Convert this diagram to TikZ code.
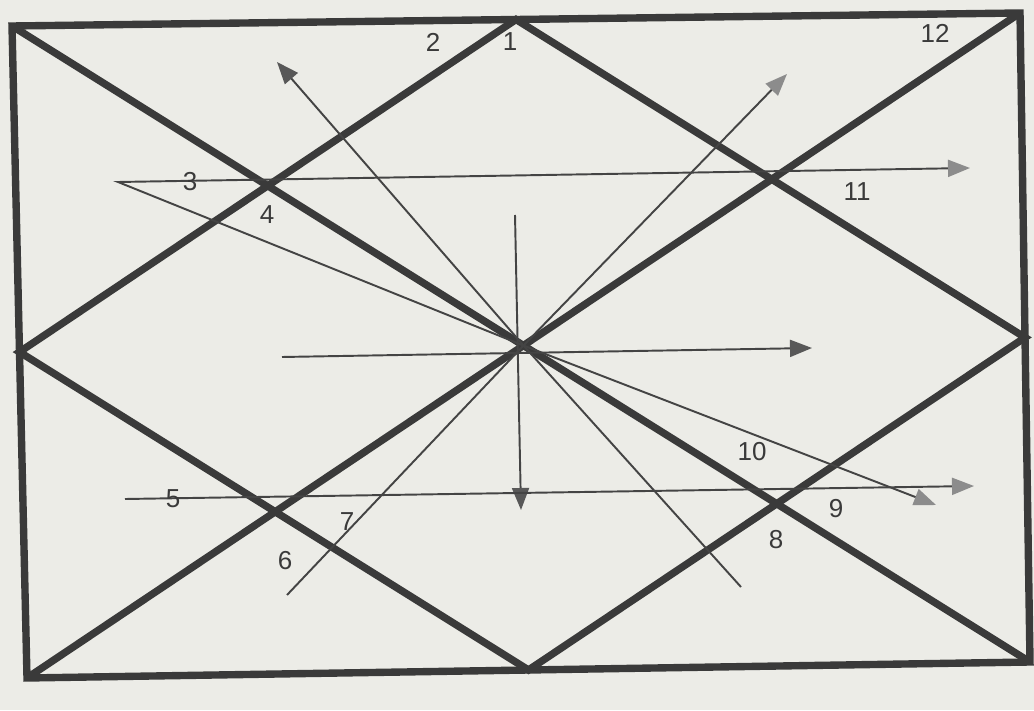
\documentclass[tikz,border=0pt]{standalone}
\usepackage{fontspec}
\setmainfont{Liberation Sans}
\usetikzlibrary{arrows.meta,calc}
\definecolor{paper}{RGB}{236,236,231}
\definecolor{ink}{RGB}{58,58,58}
\begin{document}
\begin{tikzpicture}[
  heavy/.style={draw=ink,line width=2.1pt},
  ray/.style={draw=ink!95,line width=0.55pt},
  darkhead/.style={-{Triangle[length=0.22cm,width=0.17cm,color=ink!85]}},
  greyhead/.style={-{Triangle[length=0.22cm,width=0.17cm,color=black!45]}},
  num/.style={text=ink,font=\fontsize{7.4}{8}\selectfont,inner sep=0pt}]
\fill[paper] (0,0) rectangle (10.34,7.10);
\useasboundingbox (0,0) rectangle (10.34,7.10);
\coordinate (tl) at (0.12,6.84);
\coordinate (tr) at (10.20,6.97);
\coordinate (br) at (10.30,0.48);
\coordinate (bl) at (0.27,0.32);
\coordinate (top) at ($(tl)!0.5!(tr)$);
\coordinate (rgt) at ($(tr)!0.5!(br)$);
\coordinate (bot) at ($(br)!0.5!(bl)$);
\coordinate (lft) at ($(bl)!0.5!(tl)$);
\coordinate (c) at (intersection of tl--br and tr--bl);
\draw[heavy] (tl)--(tr)--(br)--(bl)--cycle;
\draw[heavy] (tl)--(br);
\draw[heavy] (tr)--(bl);
\draw[heavy] (top)--(rgt)--(bot)--(lft)--cycle;
\coordinate (k3) at (1.18,5.28);
\coordinate (k11) at (9.70,5.42);
\coordinate (k2) at (2.77,6.48);
\coordinate (k12) at (7.87,6.36);
\coordinate (v1) at (5.15,4.95);
\coordinate (v2) at (5.21,2.00);
\coordinate (m1) at (2.82,3.53);
\coordinate (m2) at (8.12,3.62);
\coordinate (k7) at (2.87,1.15);
\coordinate (k8) at (7.41,1.23);
\coordinate (k10) at (9.36,2.05);
\coordinate (h1) at (1.25,2.11);
\coordinate (h2) at (9.74,2.24);
\draw[ray,greyhead] (c)--(k3)--(k11);
\draw[ray,darkhead] (c)--(k2);
\draw[ray,greyhead] (c)--(k12);
\draw[ray,darkhead] (v1)--(v2);
\draw[ray,darkhead] (m1)--(m2);
\draw[ray] (c)--(k7);
\draw[ray] (c)--(k8);
\draw[ray,greyhead] (c)--(k10);
\draw[ray,greyhead] (h1)--(h2);
\node [num,name=n1] at (5.10,6.68){1};
\node [num,name=n2] at (4.33,6.68){2};
\node [num,name=n3] at (1.90,5.28){3};
\node [num,name=n4] at (2.67,4.95){4};
\node [num,name=n5] at (1.73,2.11){5};
\node [num,name=n6] at (2.85,1.49){6};
\node [num,name=n7] at (3.47,1.88){7};
\node [num,name=n8] at (7.76,1.70){8};
\node [num,name=n9] at (8.36,2.01){9};
\node [num,name=n10] at (7.52,2.58){10};
\node [num,name=n11] at (8.57,5.18){11};
\node [num,name=n12] at (9.35,6.77){12};
\end{tikzpicture}
\end{document}
